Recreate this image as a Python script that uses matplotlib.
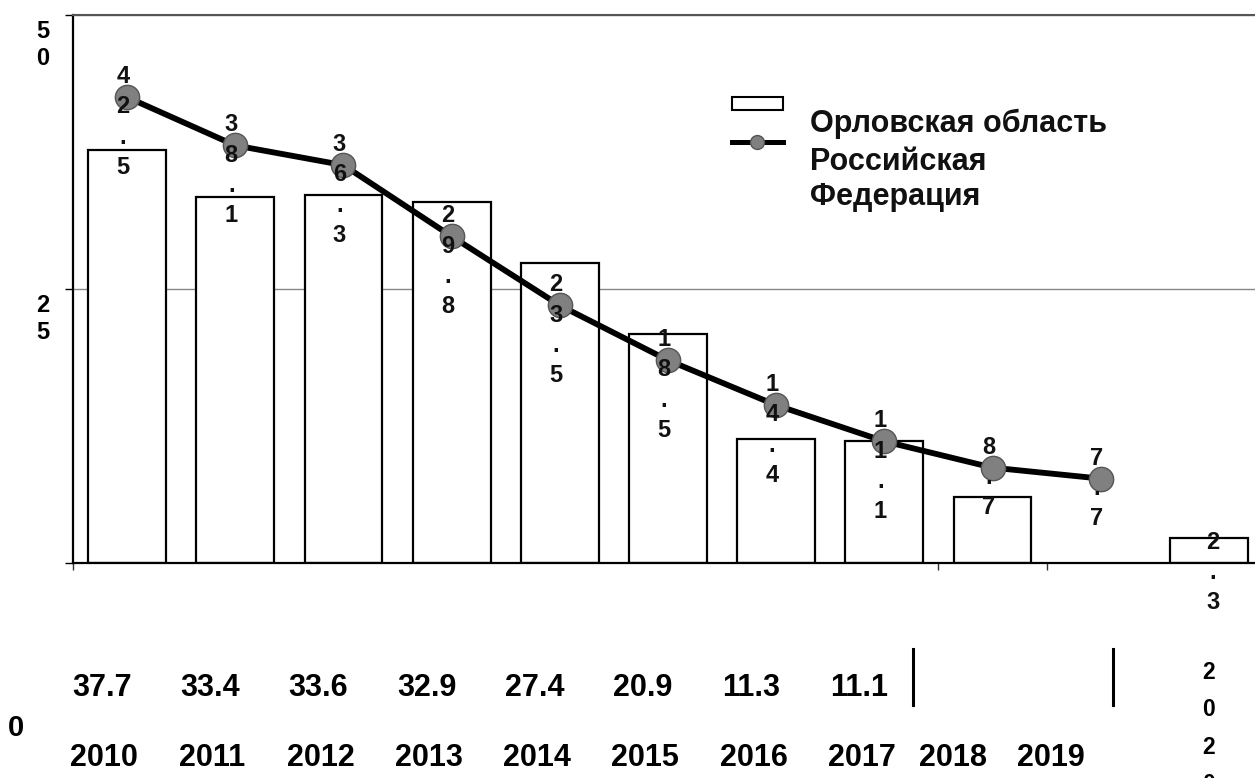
import numpy as np
import matplotlib
matplotlib.use("Agg")
import matplotlib.pyplot as plt
from matplotlib.patches import Rectangle
from matplotlib.lines import Line2D
from matplotlib.transforms import blended_transform_factory

# ---------------- data ----------------
years = [2010, 2011, 2012, 2013, 2014, 2015, 2016, 2017, 2018, 2019, 2020]
oryol = [37.7, 33.4, 33.6, 32.9, 27.4, 20.9, 11.3, 11.1, 6.0, np.nan, 2.3]   # bars
russia = [42.5, 38.1, 36.3, 29.8, 23.5, 18.5, 14.4, 11.1, 8.7, 7.7]         # line 2010-2019
table_values = [37.7, 33.4, 33.6, 32.9, 27.4, 20.9, 11.3, 11.1]             # 2010-2017
ytick_values = [0, 25, 50]
legend_labels = ["Орловская область", "Российская\nФедерация"]

plt.rcParams["font.family"] = ["Liberation Sans", "DejaVu Sans"]
plt.rcParams["font.weight"] = "bold"

W, H = 1255, 778
fig = plt.figure(figsize=(W / 100, H / 100), dpi=100)
ax = fig.add_axes([73 / W, (H - 563) / H, (1263 - 73) / W, (563 - 15) / H])

x = np.arange(len(years))
ax.bar(x, oryol, width=0.72, color="white", edgecolor="black", linewidth=1.6, zorder=2)
ax.plot(x[:len(russia)], russia, color="black", lw=4.2, marker="o", ms=17.5,
        mfc="#808080", mec="#555555", mew=1, zorder=3)

ax.set_xlim(-0.5, 10.5)
ax.set_ylim(0, 50)

for s in ["left", "bottom"]:
    ax.spines[s].set_linewidth(1.6)
    ax.spines[s].set_color("black")
ax.spines["top"].set_linewidth(1.5)
ax.spines["top"].set_color("#555555")
ax.spines["right"].set_visible(False)

ax.set_yticks(ytick_values, labels=[""] * len(ytick_values))
ax.tick_params(axis="y", length=5.8, width=1, direction="out", color="black")
ax.set_xticks([-0.5, 7.5, 8.5], labels=["", "", ""])
ax.tick_params(axis="x", length=5, width=1, direction="out", color="#333333")
ax.yaxis.grid(True, color="#888888", lw=1)
ax.set_axisbelow(True)

# y tick labels (stacked characters like in the source)
for v in ytick_values:
    if v == 0:
        ax.annotate("0", xy=(0, v), xycoords=("axes fraction", "data"),
                    xytext=(16 - 73, -(725 - 563)), textcoords="offset pixels",
                    ha="center", va="center_baseline", fontsize=21, fontweight="bold",
                    annotation_clip=False)
    else:
        ax.annotate("\n".join(str(v)), xy=(0, v), xycoords=("axes fraction", "data"),
                    xytext=(-30, -5), textcoords="offset pixels",
                    ha="center", va="top", fontsize=17, fontweight="bold",
                    linespacing=1.24, annotation_clip=False)

# data labels of the line
for xi, v in zip(x, russia):
    ax.annotate("\n".join(f"{v:.1f}"), xy=(xi, v), xytext=(-4, 32),
                textcoords="offset pixels", ha="center", va="top",
                fontsize=17, fontweight="bold", linespacing=1.4,
                color="#111111", zorder=5)
# data label of last bar
ax.annotate("\n".join(f"{oryol[-1]:.1f}"), xy=(x[-1], oryol[-1]), xytext=(4, 7),
            textcoords="offset pixels", ha="center", va="top",
            fontsize=17, fontweight="bold", linespacing=1.4,
            color="#111111", zorder=5, annotation_clip=False)

# table under the chart
tr = blended_transform_factory(ax.transData, fig.transFigure)
for xi, v in zip(x, table_values):
    ax.text(xi - 0.23, 1 - 684 / H, f"{v:.1f}", transform=tr, ha="center",
            va="center_baseline", fontsize=22, fontweight="bold", clip_on=False)

year_dx = [-0.21] * 8 + [-0.37, -0.46, 0.0]
for xi, yr, dx in zip(x, years, year_dx):
    if yr == years[-1]:
        ax.text(xi + dx, 1 - 661 / H, "\n".join(str(yr)), transform=tr, ha="center",
                va="top", fontsize=16.5, fontweight="bold", linespacing=1.8, clip_on=False)
    else:
        ax.text(xi + dx, 1 - 754 / H, str(yr), transform=tr, ha="center",
                va="center_baseline", fontsize=22, fontweight="bold", clip_on=False)

for sx in [913, 1113]:
    fig.add_artist(Line2D([sx / W, sx / W], [1 - 649 / H, 1 - 705 / H],
                          transform=fig.transFigure, color="black", lw=2.2))

# legend (drawn by hand to match the offset layout)
fig.add_artist(Rectangle((732 / W, 1 - 110 / H), 51 / W, 13 / H, transform=fig.transFigure,
                         facecolor="white", edgecolor="black", lw=1.5))
fig.add_artist(Line2D([732 / W, 783 / W], [1 - 142 / H] * 2, transform=fig.transFigure,
                      color="black", lw=3.6))
fig.add_artist(Line2D([757 / W], [1 - 142 / H], transform=fig.transFigure, marker="o",
                      ms=10, mfc="#808080", mec="#555555", mew=1, lw=0))
fig.text(810 / W, 1 - 120 / H, legend_labels[0], va="center_baseline", ha="left",
         fontsize=22, fontweight="bold", color="#111111")
fig.text(810 / W, 1 - 147 / H, legend_labels[1], va="top", ha="left",
         fontsize=22, fontweight="bold", linespacing=1.2, color="#111111")

fig.savefig("out.png", dpi=100)
